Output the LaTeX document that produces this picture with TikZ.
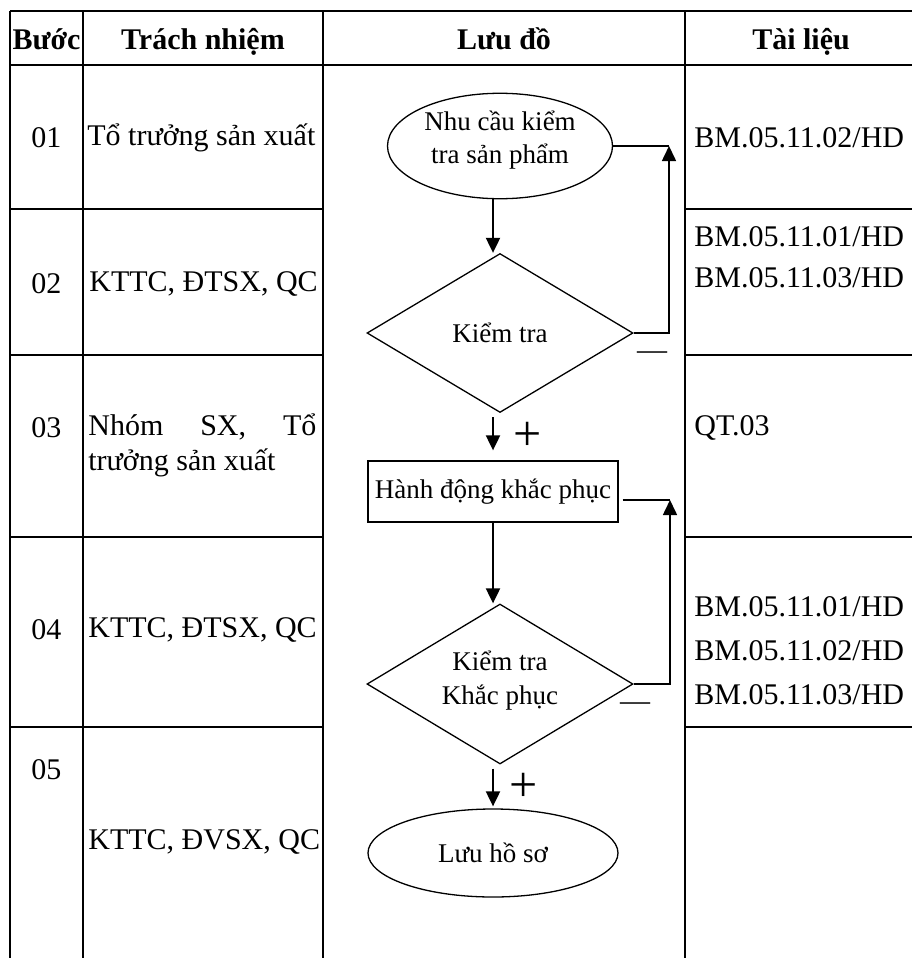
\documentclass[tikz,border=0pt]{standalone}
\usepackage{fontspec}
\setmainfont{Liberation Serif}
\usetikzlibrary{arrows.meta,shapes.geometric}

\tikzset{
  grid/.style={line width=1pt},
  cell/.style={font=\fontsize{15}{17.5}\selectfont, inner sep=0pt},
  head/.style={font=\fontsize{15}{17}\selectfont\bfseries, inner sep=0pt, anchor=base},
  chart/.style={draw, line width=0.65pt, font=\fontsize{13.5}{16.5}\selectfont, inner sep=1pt, align=center},
  flow/.style={line width=1pt, -{Triangle[length=7.5pt,width=7pt]}},
  link/.style={line width=0.8pt},
  possign/.style={inner sep=0pt, font=\fontsize{25}{25}\selectfont},
  negsign/.style={inner sep=0pt, font=\fontsize{15}{15}\selectfont},
}

\begin{document}
\begin{tikzpicture}[x=0.5pt,y=-0.5pt]
\useasboundingbox (0,0) rectangle (912,958);

% --- Table frame ---
\draw[grid] (10,11) -- (912,11);
\draw[grid] (10,65) -- (912,65);
\foreach \x in {10,83,323,685}{
  \draw[grid] (\x,11) -- (\x,958);
}
\foreach \y in {209,355,537,727}{
  \draw[grid] (10,\y) -- (323,\y);
  \draw[grid] (685,\y) -- (912,\y);
}

% --- Header ---
\node[head] (hstep) at (46.5,49) {Bước};
\node[head] (hresp) at (203,49) {Trách nhiệm};
\node[head] (hchart) at (504,49) {Lưu đồ};
\node[head] (hdoc) at (801,49) {Tài liệu};

% --- Steps ---
\foreach \n/\y in {01/138, 02/284, 03/428, 04/630, 05/770}{
  \node[cell] (step\n) at (46.5,\y) {\n};
}

% --- Responsibility ---
\node[cell, anchor=west] (resp01) at (87,138) {Tổ trưởng sản xuất};
\node[cell, anchor=west] (resp02) at (89,284) {KTTC, ĐTSX, QC};
\node[cell, anchor=west, text width=114pt, align=justify] (resp03) at (88,445.5) {Nhóm\hfill SX,\hfill Tổ\\trưởng sản xuất};
\node[cell, anchor=west] (resp04) at (88,630) {KTTC, ĐTSX, QC};
\node[cell, anchor=west] (resp05) at (88,842) {KTTC, ĐVSX, QC};

% --- Documents ---
\node[cell, anchor=west] (doc01) at (694,138) {BM.05.11.02/HD};
\node[cell, anchor=west, align=left, font=\fontsize{15}{20.5}\selectfont] (doc02) at (694,257.5) {BM.05.11.01/HD\\BM.05.11.03/HD};
\node[cell, anchor=west] (doc03) at (694,428) {QT.03};
\node[cell, anchor=west, align=left, font=\fontsize{15}{22}\selectfont] (doc04) at (694,651) {BM.05.11.01/HD\\BM.05.11.02/HD\\BM.05.11.03/HD};

% --- Flow chart ---
\node[chart, ellipse, minimum width=112.5pt, minimum height=43pt, text depth=9pt] (start) at (500,146) {Nhu cầu kiểm\\tra sản phẩm};
\node[chart, diamond, shape aspect=1.66, minimum width=133pt, minimum height=79.5pt] (check) at (500,333) {Kiểm tra};
\node[chart, rectangle, minimum width=125pt, minimum height=30.5pt] (fix) at (493,491.5) {Hành động khắc phục};
\node[chart, diamond, shape aspect=1.66, minimum width=133pt, minimum height=80pt, font=\fontsize{13.5}{17}\selectfont, text depth=6pt] (recheck) at (500,684) {Kiểm tra\\Khắc phục};
\node[chart, ellipse, minimum width=125pt, minimum height=44pt] (archive) at (493,853) {Lưu hồ sơ};

\draw[flow] (fix.south |- start.south) -- (fix.south |- check.north);
\draw[flow, shorten <=2pt, shorten >=5pt] (fix.south |- check.south) -- (fix.north);
\draw[flow] (fix.south) -- (fix.south |- recheck.north);
\draw[flow, shorten <=2pt, shorten >=1pt] (archive.north |- recheck.south) -- (archive.north);

% Loops back
\coordinate (loopa) at (669,146);
\draw[link] (start.east) -- (loopa);
\draw[flow, line width=0.8pt] (check.east) -| (loopa);
\coordinate (loopb) at (670,500);
\draw[link] ([xshift=2pt,yshift=-4.25pt]fix.east) -- (loopb);
\draw[flow, line width=0.8pt] (recheck.east) -| (loopb);

% Signs
\node[possign] (plusa) at (528,436) {+};
\node[possign] (plusb) at (524,787) {+};
\node[negsign] (minusa) at (652,356) {—};
\node[negsign] (minusb) at (635,707) {—};

\end{tikzpicture}
\end{document}
